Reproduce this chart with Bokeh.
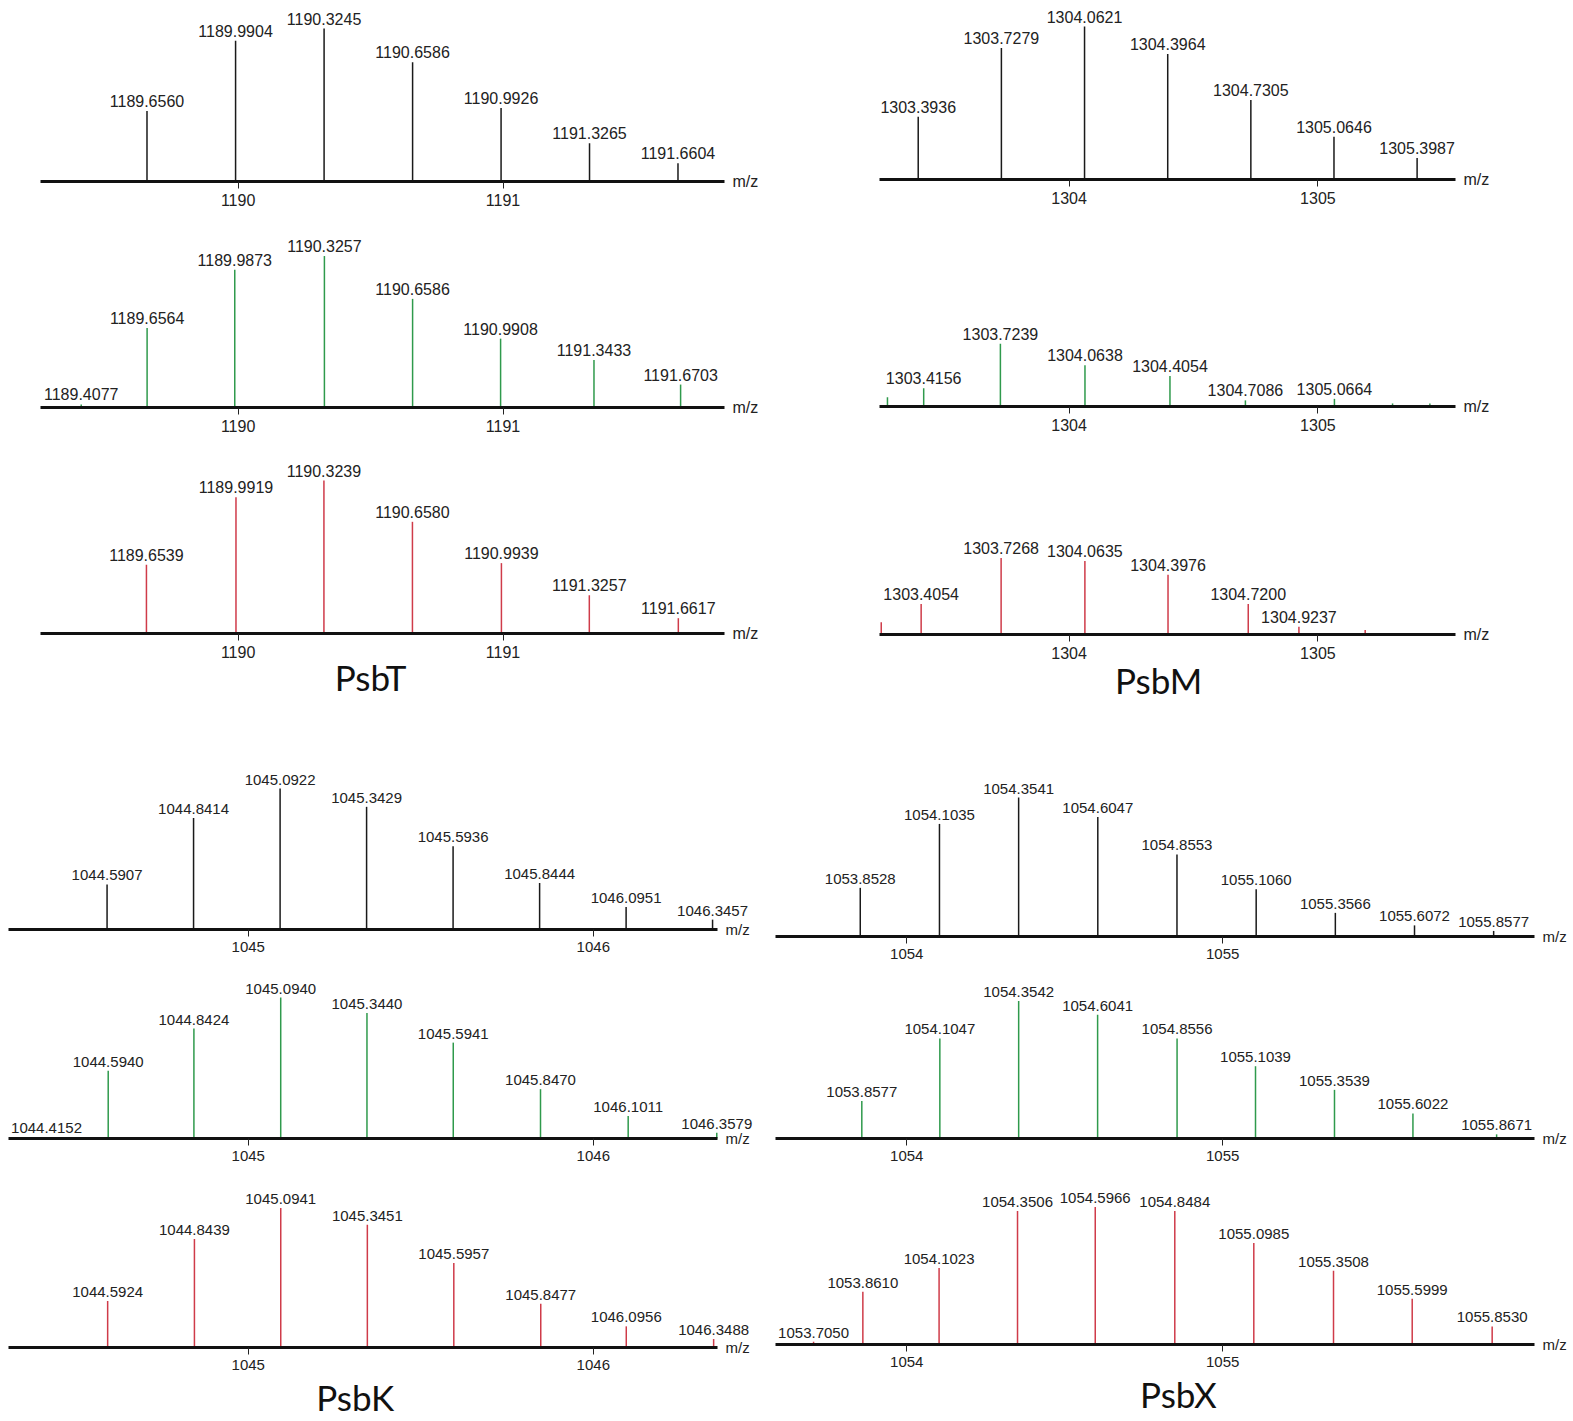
from bokeh.plotting import figure
from bokeh.models import ColumnDataSource, Range1d, FixedTicker, LabelSet, Label
from bokeh.layouts import column, row
from bokeh.embed import file_html
from bokeh.resources import INLINE
from bokeh.core.properties import value

# ---------------- data: m/z and relative intensity (%) ----------------
# PsbT
psbt_black_mz = [1189.6560, 1189.9904, 1190.3245, 1190.6586, 1190.9926, 1191.3265, 1191.6604]
psbt_black_int = [46, 92, 100, 78, 48, 25, 12]
psbt_green_mz = [1189.4077, 1189.6564, 1189.9873, 1190.3257, 1190.6586, 1190.9908, 1191.3433, 1191.6703]
psbt_green_int = [2, 52, 90, 99, 71, 45, 31, 15]
psbt_red_mz = [1189.6539, 1189.9919, 1190.3239, 1190.6580, 1190.9939, 1191.3257, 1191.6617]
psbt_red_int = [45, 89, 100, 73, 46, 25, 10]

# PsbM
psbm_black_mz = [1303.3936, 1303.7279, 1304.0621, 1304.3964, 1304.7305, 1305.0646, 1305.3987]
psbm_black_int = [41, 86, 100, 82, 52, 28, 14]
psbm_green_mz = [1303.4156, 1303.7239, 1304.0638, 1304.4054, 1304.7086, 1305.0664]
psbm_green_int = [12, 41, 27, 20, 4, 5]
psbm_green_minor_mz = [1303.27, 1305.30, 1305.45]
psbm_green_minor_int = [6, 2, 2]
psbm_red_mz = [1303.4054, 1303.7268, 1304.0635, 1304.3976, 1304.7200, 1304.9237]
psbm_red_int = [20, 50, 48, 39, 20, 5]
psbm_red_minor_mz = [1303.245, 1305.19]
psbm_red_minor_int = [8, 3]

# PsbK
psbk_black_mz = [1044.5907, 1044.8414, 1045.0922, 1045.3429, 1045.5936, 1045.8444, 1046.0951, 1046.3457]
psbk_black_int = [32, 79, 100, 87, 59, 33, 16, 7]
psbk_green_mz = [1044.4152, 1044.5940, 1044.8424, 1045.0940, 1045.3440, 1045.5941, 1045.8470, 1046.1011, 1046.3579]
psbk_green_int = [1, 48, 78, 100, 89, 68, 35, 16, 4]
psbk_red_mz = [1044.5924, 1044.8439, 1045.0941, 1045.3451, 1045.5957, 1045.8477, 1046.0956, 1046.3488]
psbk_red_int = [33, 77, 99, 87, 60, 31, 15, 6]

# PsbX
psbx_black_mz = [1053.8528, 1054.1035, 1054.3541, 1054.6047, 1054.8553, 1055.1060, 1055.3566, 1055.6072, 1055.8577]
psbx_black_int = [35, 81, 100, 86, 59, 34, 17, 8, 4]
psbx_green_mz = [1053.8577, 1054.1047, 1054.3542, 1054.6041, 1054.8556, 1055.1039, 1055.3539, 1055.6022, 1055.8671]
psbx_green_int = [27, 72, 99, 89, 72, 52, 35, 18, 3]
psbx_red_mz = [1053.7050, 1053.8610, 1054.1023, 1054.3506, 1054.5966, 1054.8484, 1055.0985, 1055.3508, 1055.5999, 1055.8530]
psbx_red_int = [2, 38, 55, 96, 99, 96, 73, 53, 33, 13]

titles = ["PsbT", "PsbM", "PsbK", "PsbX"]
ticks_psbt = [1190, 1191]
ticks_psbm = [1304, 1305]
ticks_psbk = [1045, 1046]
ticks_psbx = [1054, 1055]

BLACK = "#1a1a1a"
GREEN = "#2f9a4c"
RED = "#cf3b49"
FONT = "Liberation Sans"


def panel(mz, inten, color, axr, ticks, px100, L, FW, R, T, H, B, fs,
          minor_mz=None, minor_int=None, title=None, title_x=None, title_off=0):
    pxu = FW / (axr[1] - axr[0])          # pixels per m/z unit
    pyu = px100 / 100.0                    # pixels per intensity unit
    xr = (axr[0] - L / pxu, axr[1] + R / pxu)
    yr = (-B / pyu, (H + T) / pyu)
    p = figure(frame_width=L + FW + R, frame_height=T + H + B,
               x_range=Range1d(*xr), y_range=Range1d(*yr),
               output_backend="svg", toolbar_location=None, title=None,
               y_axis_location=None, min_border=0)
    p.min_border_left = p.min_border_right = p.min_border_top = p.min_border_bottom = 0
    p.outline_line_color = None
    p.xgrid.visible = False
    p.ygrid.visible = False
    p.background_fill_color = "white"
    p.border_fill_color = "white"
    ax = p.xaxis[0]
    ax.fixed_location = 0
    ax.bounds = axr
    ax.ticker = FixedTicker(ticks=ticks)
    ax.axis_line_width = 3
    ax.axis_line_color = "#111111"
    ax.major_tick_out = 7
    ax.major_tick_in = 0
    ax.minor_tick_out = 0
    ax.minor_tick_in = 0
    ax.major_tick_line_color = "#222222"
    ax.major_label_text_font = FONT
    ax.major_label_text_font_size = f"{fs}px"
    ax.major_label_text_color = "#222222"
    ax.major_label_standoff = 5

    src = ColumnDataSource(dict(mz=mz, inten=inten, label=[f"{m:.4f}" for m in mz]))
    p.segment(x0="mz", y0=0, x1="mz", y1="inten", source=src, line_color=color, line_width=1.5)
    if minor_mz:
        msrc = ColumnDataSource(dict(mz=minor_mz, inten=minor_int))
        p.segment(x0="mz", y0=0, x1="mz", y1="inten", source=msrc, line_color=color, line_width=1.5)
    p.add_layout(LabelSet(x="mz", y="inten", text="label", source=src, y_offset=4,
                          text_align="center", text_baseline="alphabetic",
                          text_font=value(FONT), text_font_size=f"{fs}px",
                          text_color="#222222"))
    p.add_layout(Label(x=axr[1], y=0, text="m/z", x_offset=8, text_align="left",
                       text_baseline="middle", text_font=FONT, text_font_size=f"{fs}px",
                       text_color="#222222"))
    if title:
        p.add_layout(Label(x=title_x, y=0, y_offset=title_off, text=title, text_align="center",
                           text_baseline="alphabetic", text_font="Lato",
                           text_font_size="35px", text_color="#111111"))
    return p


# Top-left: PsbT
ax_t = (1189.254, 1191.836)
tl = [
    panel(psbt_black_mz, psbt_black_int, BLACK, ax_t, ticks_psbt, 153, 40, 684, 56, 6, 175, 45, 16),
    panel(psbt_green_mz, psbt_green_int, GREEN, ax_t, ticks_psbt, 153, 40, 684, 56, 6, 175, 45, 16),
    panel(psbt_red_mz, psbt_red_int, RED, ax_t, ticks_psbt, 153, 40, 684, 56, 6, 175, 70, 16,
          title=titles[0], title_x=1190.5, title_off=-43),
]
# Top-right: PsbM
ax_m = (1303.238, 1305.553)
tr = [
    panel(psbm_black_mz, psbm_black_int, BLACK, ax_m, ticks_psbm, 153, 99, 576, 116, 4, 175, 46, 16),
    panel(psbm_green_mz, psbm_green_int, GREEN, ax_m, ticks_psbm, 153, 99, 576, 116, 6, 175, 46, 16,
          minor_mz=psbm_green_minor_mz, minor_int=psbm_green_minor_int),
    panel(psbm_red_mz, psbm_red_int, RED, ax_m, ticks_psbm, 153, 99, 576, 116, 7, 175, 69, 16,
          minor_mz=psbm_red_minor_mz, minor_int=psbm_red_minor_int,
          title=titles[1], title_x=1304.36, title_off=-45),
]
# Bottom-left: PsbK
ax_k = (1044.305, 1046.360)
bl = [
    panel(psbk_black_mz, psbk_black_int, BLACK, ax_k, ticks_psbk, 141, 8, 709, 43, 6, 220, 36, 15),
    panel(psbk_green_mz, psbk_green_int, GREEN, ax_k, ticks_psbk, 141, 8, 709, 43, 6, 167, 36, 15),
    panel(psbk_red_mz, psbk_red_int, RED, ax_k, ticks_psbk, 141, 8, 709, 43, 6, 167, 72, 15,
          title=titles[2], title_x=1045.31, title_off=-49),
]
# Bottom-right: PsbX
ax_x = (1053.5845, 1055.987)
br = [
    panel(psbx_black_mz, psbx_black_int, BLACK, ax_x, ticks_psbx, 139, 15, 759, 37, 6, 227, 36, 15),
    panel(psbx_green_mz, psbx_green_int, GREEN, ax_x, ticks_psbx, 139, 15, 759, 37, 6, 160, 36, 15),
    panel(psbx_red_mz, psbx_red_int, RED, ax_x, ticks_psbx, 139, 15, 759, 37, 6, 164, 72, 15,
          title=titles[3], title_x=1054.86, title_off=-49),
]

layout = column(row(column(*tl), column(*tr)), row(column(*bl), column(*br)))
open("out.html", "w").write(file_html(layout, INLINE))
